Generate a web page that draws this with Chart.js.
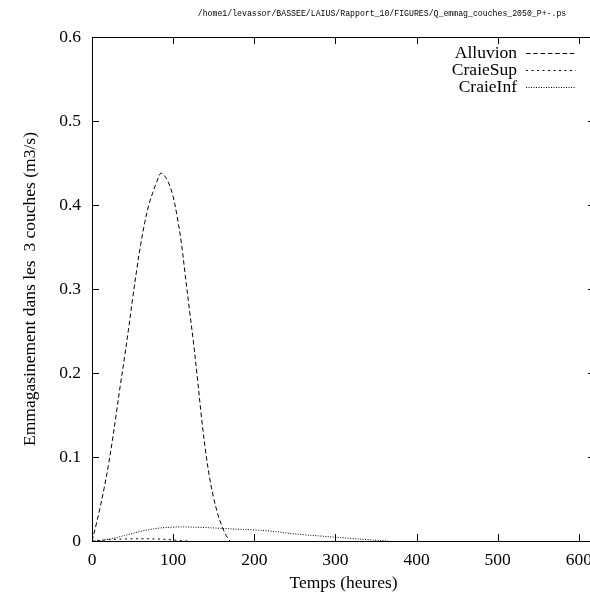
<!DOCTYPE html>
<html>
<head>
<meta charset="utf-8">
<script src="https://cdn.jsdelivr.net/npm/chart.js@4/dist/chart.umd.min.js"></script>
<style>
  html, body { margin: 0; padding: 0; background: #fff; overflow: hidden; }
  #wrap { position: absolute; left: 0; top: 0; width: 610px; height: 595px; }
</style>
</head>
<body>
<div id="wrap"><canvas id="chart" width="610" height="595"></canvas></div>
<script>
// Data
const fileTitle = '/home1/levassor/BASSEE/LAIUS/Rapport_10/FIGURES/Q_emmag_couches_2050_P+-.ps';
const xTitle = 'Temps (heures)';
const yTitle = 'Emmagasinement dans les  3 couches (m3/s)';

const alluvionHours = [0, 5, 10, 15, 20, 25, 30, 35, 40, 45, 50, 55, 60, 65, 70, 75, 80, 85, 90, 95, 100,
  105, 110, 115, 120, 125, 130, 135, 140, 145, 150, 155, 160, 165, 170];
const alluvion = [0, 0.019, 0.040, 0.063, 0.089, 0.119, 0.152, 0.186, 0.218, 0.252, 0.288, 0.322, 0.353,
  0.379, 0.400, 0.415, 0.428, 0.438, 0.434, 0.425, 0.410, 0.386, 0.356, 0.316, 0.276, 0.237, 0.193,
  0.147, 0.107, 0.075, 0.051, 0.032, 0.018, 0.007, 0];

const craieSupHours = [0, 10, 20, 30, 40, 50, 60, 70, 80, 90, 100, 110, 120];
const craieSup = [0, 0.0008, 0.0015, 0.002, 0.0024, 0.0026, 0.0027, 0.0026, 0.0024, 0.002, 0.0012, 0.0004, 0];

const craieInfHours = [0, 10, 20, 30, 40, 50, 60, 70, 80, 90, 100, 110, 120, 140, 160, 180, 200, 220, 240,
  260, 280, 300, 320, 340, 355, 365];
const craieInf = [0, 0.0005, 0.002, 0.004, 0.0065, 0.009, 0.0115, 0.0135, 0.015, 0.016, 0.0165, 0.0168,
  0.0166, 0.016, 0.015, 0.014, 0.0132, 0.0118, 0.0095, 0.0075, 0.006, 0.0045, 0.003, 0.0016, 0.0006, 0];

const xTicks = [0, 100, 200, 300, 400, 500, 600];
const yTicks = [0, 0.1, 0.2, 0.3, 0.4, 0.5, 0.6];

const serif = '"Liberation Serif", "DejaVu Serif", serif';
const fontSize = 17.5;

function pts(xs, ys) {
  return xs.map((x, i) => ({ x: x, y: ys[i] }));
}

function series(label, xs, ys, dash) {
  return {
    label: label,
    data: pts(xs, ys),
    borderColor: '#000',
    borderWidth: 1,
    borderDash: dash,
    pointRadius: 0,
    tension: 0.35,
    fill: false
  };
}

// gnuplot style frame, mirrored inward ticks, titles and key
const gnuplotDecor = {
  id: 'gnuplotDecor',
  afterDraw(chart) {
    const ctx = chart.ctx;
    const a = chart.chartArea;
    const xs = chart.scales.x;
    const ys = chart.scales.y;
    const tick = 7;
    ctx.save();
    ctx.strokeStyle = '#000';
    ctx.lineWidth = 1;
    ctx.setLineDash([]);
    ctx.beginPath();
    ctx.rect(Math.round(a.left) + 0.5, Math.round(a.top) + 0.5, Math.round(a.right - a.left), Math.round(a.bottom - a.top));
    ctx.stroke();
    ctx.beginPath();
    xTicks.forEach(v => {
      const px = Math.round(xs.getPixelForValue(v)) + 0.5;
      ctx.moveTo(px, a.bottom); ctx.lineTo(px, a.bottom - tick);
      ctx.moveTo(px, a.top); ctx.lineTo(px, a.top + tick);
    });
    yTicks.forEach(v => {
      const py = Math.round(ys.getPixelForValue(v)) + 0.5;
      ctx.moveTo(a.left, py); ctx.lineTo(a.left + tick, py);
      ctx.moveTo(a.right, py); ctx.lineTo(a.right - tick, py);
    });
    ctx.stroke();

    // file name on top
    ctx.fillStyle = '#000';
    ctx.font = '8.2px "Liberation Mono", "DejaVu Sans Mono", monospace';
    ctx.textAlign = 'center';
    ctx.textBaseline = 'middle';
    ctx.fillText(fileTitle, 382, 14);

    // axis titles
    ctx.font = fontSize + 'px ' + serif;
    ctx.fillText(xTitle, (a.left + a.right) / 2, 583);
    ctx.save();
    ctx.translate(30, (a.top + a.bottom) / 2);
    ctx.rotate(-Math.PI / 2);
    ctx.fillText(yTitle, 0, 0);
    ctx.restore();

    // key
    ctx.textAlign = 'right';
    chart.data.datasets.forEach((ds, i) => {
      const y = 53 + i * 17;
      ctx.fillStyle = '#000';
      ctx.fillText(ds.label, 517, y);
      ctx.setLineDash(ds.borderDash);
      ctx.beginPath();
      ctx.moveTo(526, Math.round(y) + 0.5);
      ctx.lineTo(576, Math.round(y) + 0.5);
      ctx.stroke();
    });
    ctx.restore();
  }
};

new Chart(document.getElementById('chart'), {
  type: 'line',
  data: {
    datasets: [
      series('Alluvion', alluvionHours, alluvion, [4.5, 2.8]),
      series('CraieSup', craieSupHours, craieSup, [2, 3.5]),
      series('CraieInf', craieInfHours, craieInf, [1, 1.5])
    ]
  },
  options: {
    responsive: false,
    animation: false,
    layout: { padding: { top: 37, right: 15, left: 0, bottom: 0 } },
    plugins: { legend: { display: false }, tooltip: { enabled: false } },
    scales: {
      x: {
        type: 'linear',
        min: 0,
        max: 620,
        afterBuildTicks: s => { s.ticks = xTicks.map(v => ({ value: v })); },
        afterFit: s => { s.height = 54; },
        grid: { display: false, drawTicks: false },
        border: { display: false },
        ticks: { color: '#000', padding: 9, maxRotation: 0, autoSkip: false, font: { family: serif, size: fontSize } }
      },
      y: {
        type: 'linear',
        min: 0,
        max: 0.6,
        afterBuildTicks: s => { s.ticks = yTicks.map(v => ({ value: v })); },
        afterFit: s => { s.width = 92; },
        grid: { display: false, drawTicks: false },
        border: { display: false },
        ticks: {
          color: '#000', padding: 11, font: { family: serif, size: fontSize },
          callback: v => String(Number(v.toFixed(1)))
        }
      }
    }
  },
  plugins: [gnuplotDecor]
});
</script>
</body>
</html>
